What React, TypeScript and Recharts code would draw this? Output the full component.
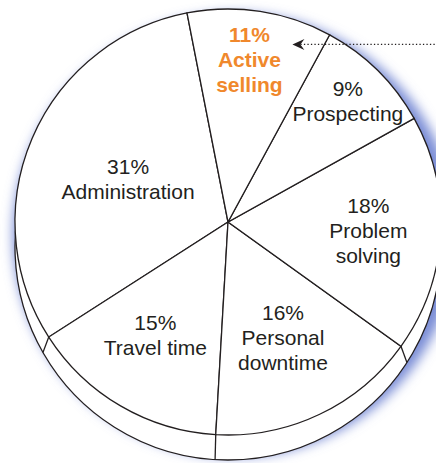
import { Pie, PieChart, Sector, Cell } from "recharts";

// time-use shares, counter-clockwise from the top-left edge
const categories = [
  "Administration",
  "Travel time",
  "Personal downtime",
  "Problem solving",
  "Prospecting",
  "Active selling",
];
const shares = [31, 15, 16, 18, 9, 11];
const labelLines = [
  ["Administration"],
  ["Travel time"],
  ["Personal", "downtime"],
  ["Problem", "solving"],
  ["Prospecting"],
  ["Active", "selling"],
];
const highlighted = "Active selling";

const WIDTH = 436;
const HEIGHT = 463;
const CX = 228;
const CY = 222;
const R = 213;
const DEPTH = 25; // thickness of the disc
const START = 101.1;
const INK = "#231f20";
const ORANGE = "#f0882c";
const FONT = "'Liberation Sans', Arial, Helvetica, sans-serif";
// how far out each label block sits, as a fraction of the radius,
// plus a small angular nudge
const labelRadius = [0.51, 0.63, 0.6, 0.66, 0.8, 0.77];
const labelNudge = [0, -2.5, 0, 0, 0, 1.2];

const RADIAN = Math.PI / 180;
const polar = (cx: number, cy: number, r: number, angle: number) => ({
  x: cx + r * Math.cos(-angle * RADIAN),
  y: cy + r * Math.sin(-angle * RADIAN),
});

const data = categories.map((name, i) => ({
  name,
  value: shares[i],
  lines: labelLines[i],
}));
const total = shares.reduce((a, b) => a + b, 0);
const disc = [{ name: "disc", value: total }];

function TopSlice(props: any) {
  const { cx, cy, outerRadius, startAngle } = props;
  let stub = null;
  if (Math.sin(startAngle * RADIAN) < -0.1) {
    // edge of the disc below a slice boundary
    const p = polar(cx, cy, outerRadius, startAngle);
    const u = 0.45 * Math.cos(startAngle * RADIAN);
    const wx = p.x - cx;
    const wy = p.y - (cy + DEPTH);
    const a = u * u + 1;
    const b = 2 * (wx * u + wy);
    const c = wx * wx + wy * wy - outerRadius * outerRadius;
    const t = (-b + Math.sqrt(b * b - 4 * a * c)) / (2 * a);
    stub = (
      <line
        x1={p.x}
        y1={p.y}
        x2={p.x + u * t}
        y2={p.y + t}
        stroke={INK}
        strokeWidth={1.3}
      />
    );
  }
  return (
    <g>
      <Sector {...props} />
      {stub}
    </g>
  );
}

function ShadowSlice(props: any) {
  return (
    <g filter="url(#discShadow)">
      <Sector {...props} />
    </g>
  );
}

function renderLabel(props: any) {
  const { cx, cy, midAngle, outerRadius, index, value, payload } = props;
  const pos = polar(
    cx,
    cy,
    outerRadius * labelRadius[index],
    midAngle + labelNudge[index]
  );
  const lines = [`${value}%`, ...(payload.lines as string[])];
  const hot = payload.name === highlighted;
  const step = 25;
  const top = pos.y - ((lines.length - 1) * step) / 2;
  const tip = pos.x + 43;
  return (
    <g>
      {lines.map((line, i) => (
        <text
          key={i}
          x={pos.x}
          y={top + i * step}
          textAnchor="middle"
          dominantBaseline="central"
          fontFamily={FONT}
          fontSize={21}
          fontWeight={hot ? 700 : 400}
          fill={hot ? ORANGE : INK}
        >
          {line}
        </text>
      ))}
      {hot && (
        <g>
          <line
            x1={tip + 8}
            y1={top + 10}
            x2={WIDTH}
            y2={top + 10}
            stroke={INK}
            strokeWidth={1.2}
            strokeDasharray="1.3 2.2"
          />
          <path
            d={`M${tip},${top + 10} L${tip + 12},${top + 4.5} L${tip + 8},${top + 10} L${tip + 12},${top + 15.5} Z`}
            fill={INK}
          />
        </g>
      )}
    </g>
  );
}

export default function App() {
  return (
    <div style={{ position: "absolute", left: 0, top: 0, background: "#fff" }}>
      <PieChart
        width={WIDTH}
        height={HEIGHT}
        margin={{ top: 0, right: 0, bottom: 0, left: 0 }}
      >
        <defs>
          <filter id="discShadow" x="-20%" y="-20%" width="140%" height="140%">
            <feGaussianBlur stdDeviation={6} />
          </filter>
        </defs>
        <Pie
          data={disc}
          dataKey="value"
          cx={CX + 7}
          cy={CY + 13}
          outerRadius={R + 9}
          startAngle={90}
          endAngle={450}
          stroke="none"
          fill="#7a8dd6"
          shape={ShadowSlice}
          isAnimationActive={false}
        />
        <Pie
          data={disc}
          dataKey="value"
          cx={CX}
          cy={CY + DEPTH}
          outerRadius={R}
          startAngle={90}
          endAngle={450}
          stroke={INK}
          strokeWidth={1.3}
          fill="#ffffff"
          isAnimationActive={false}
        />
        <Pie
          data={data}
          dataKey="value"
          nameKey="name"
          cx={CX}
          cy={CY}
          outerRadius={R}
          startAngle={START}
          endAngle={START + 360}
          stroke={INK}
          strokeWidth={1.3}
          shape={TopSlice}
          label={renderLabel}
          labelLine={false}
          isAnimationActive={false}
        >
          {data.map((d) => (
            <Cell key={d.name} fill="#ffffff" />
          ))}
        </Pie>
      </PieChart>
    </div>
  );
}
